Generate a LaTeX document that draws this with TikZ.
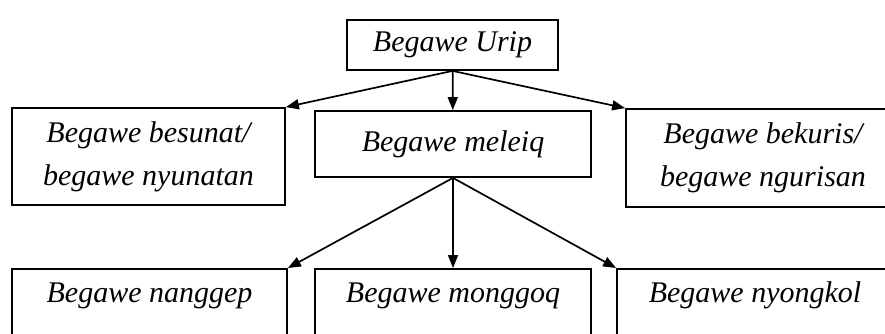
\documentclass[tikz,border=0pt]{standalone}
\usepackage{fontspec}
\setmainfont{Liberation Serif}
\usepackage{tikz}
\usetikzlibrary{arrows.meta}

\begin{document}
\begin{tikzpicture}[
    x=1pt, y=-1pt,
    box/.style={draw, line width=1.8pt, align=center, inner sep=0pt, font=\itshape\fontsize{30}{43}\selectfont},
    lowbox/.style={box, anchor=north, minimum width=275pt, text height=34pt, text depth=40pt},
    arrow/.style={-{Triangle[length=13pt,width=10pt]}, line width=1.7pt}
]
\useasboundingbox (0,0) rectangle (885,333);
\clip (0,0) rectangle (885,333);

\node[box, minimum width=211pt, minimum height=50pt] (urip) at (452.5,45) {Begawe Urip};
\node[box, minimum width=273pt, minimum height=97pt] (besunat) at (148.5,156.5) {Begawe besunat/\\begawe nyunatan};
\node[box, minimum width=276pt, minimum height=66pt] (meleiq) at (453,144) {Begawe meleiq};
\node[box, minimum width=274pt, minimum height=98pt] (bekuris) at (763,158) {Begawe bekuris/\\begawe ngurisan};

\node[lowbox] (nanggep) at (149.5,268) {Begawe nanggep};
\node[lowbox, minimum width=276pt] (monggoq) at (453,268) {Begawe monggoq};
\node[lowbox, minimum width=276pt] (nyongkol) at (755,268) {Begawe nyongkol};

\draw[arrow] (urip.south) -- (besunat.north east);
\draw[arrow] (urip) -- (meleiq);
\draw[arrow] (urip.south) -- (bekuris.north west);

\draw[arrow] (meleiq.south) -- (nanggep.north east);
\draw[arrow] (meleiq) -- (monggoq);
\draw[arrow] (meleiq.south) -- (nyongkol.north west);
\end{tikzpicture}
\end{document}
